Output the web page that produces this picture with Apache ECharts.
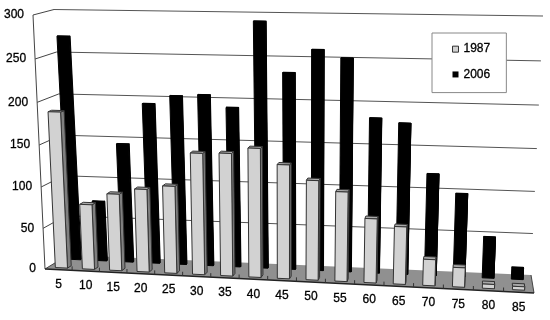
<!DOCTYPE html>
<html><head><meta charset="utf-8">
<style>html,body{margin:0;padding:0;background:#fff}#c{width:550px;height:320px}</style>
<script src="https://cdn.jsdelivr.net/npm/echarts@6/dist/echarts.min.js"></script>
</head><body><div id="c"></div>
<script>
const categories = ['5','10','15','20','25','30','35','40','45','50','55','60','65','70','75','80','85'];
const values1987 = [188,79,93,100,105,145,146,153,135,118,106,76,68,31,23,5,4];
const values2006 = [271,74,145,194,204,206,192,292,234,261,252,184,179,121,99,49,14];
const yTicks = [0,50,100,150,200,250,300];

// corners of the 3-D box in the picture
const FBL=[45,269],FTL=[33,15],FBR=[534,293],FTR=[547,25];
const BBL=[68,255],BTL=[54,9.5],BBR=[531,275],BTR=[543,16];
const lerp=(a,b,t)=>[a[0]+(b[0]-a[0])*t,a[1]+(b[1]-a[1])*t];
const warpU=u=>u*(1+0.065*u)/1.065, warpV=v=>v*(1+0.05*v)/1.05;
function P(u,v,d){ // u, v already warped
  const f=lerp(lerp(FBL,FBR,u),lerp(FTL,FTR,u),v);
  const b=lerp(lerp(BBL,BBR,u),lerp(BTL,BTR,u),v);
  return lerp(f,b,d);
}
function norm(api,cat,val){ // library scale -> unit coordinates
  const p=api.coord([cat,val]);
  return [warpU(p[0]/550),warpV(1-p[1]/320)];
}
const poly=(pts,fill,stroke,lw)=>({type:'polygon',silent:true,shape:{points:pts},
  style:{fill:fill,stroke:stroke||null,lineWidth:lw||0}});
const line=(a,b,c,w)=>({type:'line',silent:true,shape:{x1:a[0],y1:a[1],x2:b[0],y2:b[1]},style:{stroke:c,lineWidth:w}});
const FONT='12px "Liberation Sans", Arial, sans-serif';
const txt=(x,y,s,al)=>({type:'text',silent:true,x:x,y:y,style:{text:s,font:FONT,fill:'#000',stroke:'#000',lineWidth:0.3,textAlign:al,textVerticalAlign:'middle'}});

function renderFrame(params,api){
  const ch=[];
  ch.push(poly([FBL,FTL,BTL,BTR,BBR,BBL],'#fff'));
  yTicks.forEach(t=>{
    if(t===0)return;
    const v=norm(api,0,t)[1];
    ch.push(line(P(0,v,0),P(0,v,1),'#444',1));
    ch.push(line(P(0,v,1),P(1,v,1),'#555',1));
  });
  ch.push(line(FTL,FBL,'#444',1));
  ch.push(poly([FBL,BBL,BBR,FBR],'#909090'));
  ch.push(line(FBL,BBL,'#444',1));
  ch.push(line(BBR,FBR,'#444',1));
  ch.push(line(FBL,FBR,'#222',1.6));
  for(let i=1;i<categories.length;i++){
    const a=P(warpU(i/categories.length),0,0);
    ch.push(line(a,[a[0],a[1]-4],'#333',1));
  }
  return {type:'group',children:ch};
}
function renderLabels(params,api){
  const ch=[];
  yTicks.forEach(t=>{
    const p=P(0,norm(api,0,t)[1],0);
    ch.push(txt(p[0]-9,p[1],String(t),'right'));
  });
  categories.forEach((c,i)=>{
    const n=norm(api,i,0), p=P(n[0],0,0);
    ch.push(txt(p[0],p[1]+15,c,'center'));
  });
  return {type:'group',children:ch};
}
function bar(api,hw,d0,d1,cols,stroke){
  const n=norm(api,api.value(0),api.value(1));
  const u=n[0],v=n[1],L=u-hw,R=u+hw;
  const fr=[P(L,0,d0),P(L,v,d0),P(R,v,d0),P(R,0,d0)];
  const sd=[P(R,0,d0),P(R,v,d0),P(R,v,d1),P(R,0,d1)];
  const tp=[P(L,v,d0),P(L,v,d1),P(R,v,d1),P(R,v,d0)];
  return {type:'group',children:[poly(sd,cols[1],stroke,1),poly(tp,cols[2],stroke,1),poly(fr,cols[0],stroke,1)]};
}
const renderBlack=(p,api)=>bar(api,0.0125,0.72,0.76,['#000','#000','#000'],'#000');
const renderGray=(p,api)=>bar(api,0.0125,0.13,0.3,['#d2d2d2','#808080','#a8a8a8'],'#333');

const chart=echarts.init(document.getElementById('c'),null,{renderer:'canvas'});
chart.setOption({
  animation:false,backgroundColor:'#fff',
  grid:{left:0,right:0,top:0,bottom:0},
  xAxis:{type:'category',data:categories,show:false},
  yAxis:{type:'value',min:0,max:300,interval:50,show:false},
  legend:{data:[
      {name:'1987',icon:'rect',itemStyle:{color:'#d2d2d2',borderColor:'#333',borderWidth:1}},
      {name:'2006',icon:'rect',itemStyle:{color:'#000'}}],
    orient:'vertical',left:432,top:33,itemWidth:6,itemHeight:6,itemGap:13,
    padding:[10,16,12,20],borderColor:'#888',borderWidth:1,backgroundColor:'#fff',
    selectedMode:false,textStyle:{color:'#000',fontSize:12,fontFamily:'"Liberation Sans", Arial, sans-serif',textBorderColor:'#000',textBorderWidth:0.3}},
  series:[
    {type:'custom',name:'frame',renderItem:renderFrame,data:[[0,0]],z:1,silent:true},
    {type:'custom',name:'2006',renderItem:renderBlack,itemStyle:{color:'#000'},
      data:categories.map((c,i)=>[i,values2006[i]]),encode:{x:0,y:1},z:2},
    {type:'custom',name:'1987',renderItem:renderGray,itemStyle:{color:'#d2d2d2'},
      data:categories.map((c,i)=>[i,values1987[i]]),encode:{x:0,y:1},z:3},
    {type:'custom',name:'labels',renderItem:renderLabels,data:[[0,0]],z:4,silent:true}
  ]
});
</script></body></html>
